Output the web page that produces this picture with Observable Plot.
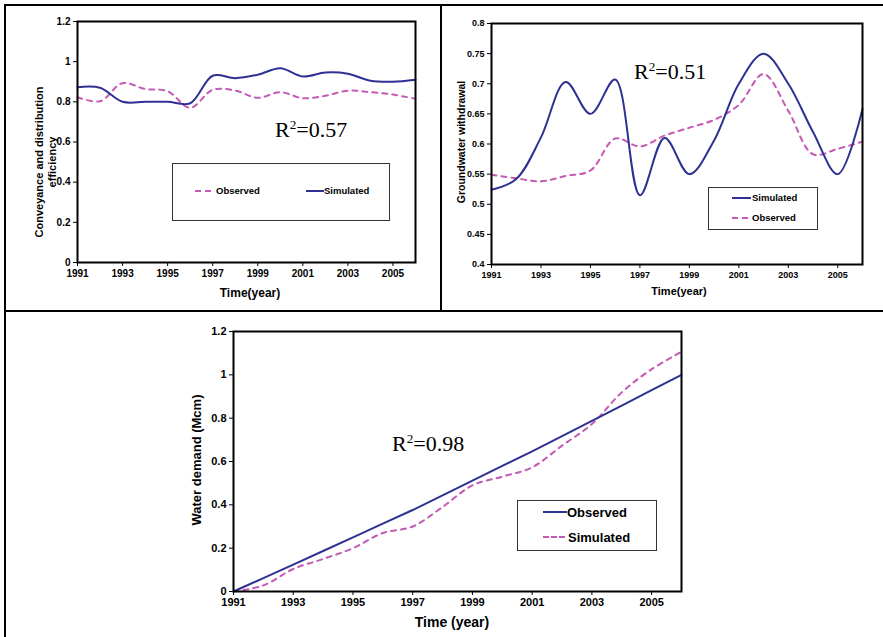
<!DOCTYPE html>
<html><head><meta charset="utf-8">
<script src="https://cdn.jsdelivr.net/npm/d3@7"></script>
<script src="https://cdn.jsdelivr.net/npm/@observablehq/plot@0.6"></script>
<style>
body{margin:0;background:#fff;}
#root{position:relative;width:883px;height:637px;overflow:hidden;font-family:"Liberation Sans",Arial,sans-serif;}
#root svg{position:absolute;}
.line{position:absolute;background:#000;}
.ylab{position:absolute;font-weight:bold;white-space:nowrap;transform:translate(-50%,-50%) rotate(-90deg);text-align:center;line-height:1.2;}
.xlab{position:absolute;font-weight:bold;white-space:nowrap;transform:translate(-50%,-50%);}
.r2{position:absolute;font-family:"Liberation Serif","Times New Roman",serif;white-space:nowrap;line-height:1;}
.r2 sup{font-size:0.6em;vertical-align:0;position:relative;top:-0.6em;}
.leg{position:absolute;border:1px solid #333;background:#fff;}
.lt{position:absolute;font-weight:bold;white-space:nowrap;line-height:1;transform:translateY(-50%);}
.sw{position:absolute;height:0;}
</style>
</head><body>
<div id="root"></div>
<script>
// ---- data ----
const years = [1991,1992,1993,1994,1995,1996,1997,1998,1999,2000,2001,2002,2003,2004,2005,2006];
const xTicks = [1991,1993,1995,1997,1999,2001,2003,2005];

// Panel 1: Conveyance and distribution efficiency
const effSimulated = [0.873,0.870,0.800,0.800,0.800,0.793,0.930,0.918,0.935,0.967,0.926,0.946,0.940,0.905,0.900,0.910];
const effObserved  = [0.823,0.803,0.893,0.864,0.853,0.770,0.860,0.856,0.820,0.848,0.818,0.830,0.856,0.848,0.836,0.815];
const effYTicks = [0,0.2,0.4,0.6,0.8,1,1.2];

// Panel 2: Groundwater withdrawal
const gwSimulated = [0.524,0.542,0.611,0.703,0.650,0.707,0.515,0.610,0.550,0.606,0.700,0.750,0.700,0.620,0.550,0.658];
const gwObserved  = [0.549,0.543,0.538,0.547,0.556,0.609,0.596,0.614,0.627,0.640,0.665,0.716,0.655,0.583,0.592,0.604];
const gwYTicks = [0.4,0.45,0.5,0.55,0.6,0.65,0.7,0.75,0.8];

// Panel 3: Water demand (Mcm)
const wdObserved  = [0,0.062,0.124,0.187,0.250,0.313,0.376,0.444,0.512,0.580,0.647,0.717,0.788,0.858,0.929,1.0];
const wdSimulated = [0,0.028,0.104,0.150,0.200,0.270,0.300,0.390,0.490,0.530,0.573,0.673,0.773,0.919,1.026,1.106];
const wdYTicks = [0,0.2,0.4,0.6,0.8,1,1.2];

const BLUE = "#2E3192";
const MAG = "#C45AB5";

const rows = (ys) => years.map((y,i)=>({year:y, v:ys[i]}));

// solid: blue solid series, dashed: magenta dashed series
function panel({width,height,ml,mr,mt,mb,ydom,yticks,solid,dashed,fs,solidCurve,dashedCurve}){
  return Plot.plot({
    width,height,marginLeft:ml,marginRight:mr,marginTop:mt,marginBottom:mb,
    style:{fontFamily:'"Liberation Sans",Arial,sans-serif',fontWeight:"bold",fontSize:fs+"px",color:"#000",background:"transparent"},
    x:{domain:[1991,2006],ticks:xTicks,tickFormat:d=>String(d),label:null,tickSize:4,tickPadding:3},
    y:{domain:ydom,ticks:yticks,tickFormat:d=>String(d),label:null,tickSize:4,tickPadding:3},
    marks:[
      Plot.line(rows(dashed),{x:"year",y:"v",stroke:MAG,strokeWidth:2,strokeDasharray:"5,5",curve:dashedCurve}),
      Plot.line(rows(solid),{x:"year",y:"v",stroke:BLUE,strokeWidth:2,curve:solidCurve}),
      Plot.frame({stroke:"#000",strokeWidth:2})
    ]
  });
}

const root = document.getElementById("root");
function add(el,left,top){el.style.left=left+"px";el.style.top=top+"px";root.appendChild(el);return el;}
function div(cls,html,css){const d=document.createElement("div");d.className=cls;if(html!=null)d.innerHTML=html;if(css)Object.assign(d.style,css);root.appendChild(d);return d;}

// borders
div("line",null,{left:"5px",top:"4px",width:"878px",height:"2px"});
div("line",null,{left:"4px",top:"4px",width:"2px",height:"633px"});
div("line",null,{left:"440px",top:"4px",width:"2px",height:"307px"});
div("line",null,{left:"5px",top:"310px",width:"878px",height:"2px"});

// panel 1
add(panel({width:434,height:300,ml:71,mr:25,mt:15,mb:44,ydom:[0,1.2],yticks:effYTicks,solid:effSimulated,dashed:effObserved,fs:10,solidCurve:"catmull-rom",dashedCurve:"catmull-rom"}),6,6);
// panel 2
add(panel({width:440,height:298,ml:49,mr:20,mt:17,mb:40,ydom:[0.4,0.8],yticks:gwYTicks,solid:gwSimulated,dashed:gwObserved,fs:9,solidCurve:"catmull-rom",dashedCurve:"catmull-rom"}),442,6);
// panel 3
add(panel({width:877,height:324,ml:227,mr:202,mt:19,mb:45,ydom:[0,1.2],yticks:wdYTicks,solid:wdObserved,dashed:wdSimulated,fs:11,solidCurve:"linear",dashedCurve:"catmull-rom"}),6,312);

// axis labels
div("ylab","Conveyance and distribution<br>efficiency",{left:"46px",top:"162px",fontSize:"11px"});
div("xlab","Time(year)",{left:"250px",top:"293px",fontSize:"12px"});
div("ylab","Groundwater withdrawal",{left:"461px",top:"142px",fontSize:"10.5px"});
div("xlab","Time(year)",{left:"679px",top:"291px",fontSize:"11px"});
div("ylab","Water demand (Mcm)",{left:"197px",top:"460px",fontSize:"13px"});
div("xlab","Time (year)",{left:"452px",top:"622px",fontSize:"14px"});

// R2 labels
div("r2","R<sup>2</sup>=0.57",{left:"275px",top:"119px",fontSize:"22px"});
div("r2","R<sup>2</sup>=0.51",{left:"634px",top:"61px",fontSize:"22px"});
div("r2","R<sup>2</sup>=0.98",{left:"392px",top:"433px",fontSize:"22px"});

// legends
function legend(box,items,fs){
  div("leg",null,{left:box[0]+"px",top:box[1]+"px",width:(box[2]-box[0])+"px",height:(box[3]-box[1])+"px"});
  for(const it of items){
    div("sw",null,{left:it.x0+"px",top:(it.y-1)+"px",width:(it.x1-it.x0)+"px",borderTop:"2px "+(it.dash?"dashed ":"solid ")+it.color});
    div("lt",it.label,{left:it.tx+"px",top:it.y+"px",fontSize:fs+"px"});
  }
}
legend([172,163,388,219],[
  {label:"Observed",color:MAG,dash:true,x0:195,x1:211,y:191,tx:216},
  {label:"Simulated",color:BLUE,dash:false,x0:306,x1:324,y:191,tx:324}
],9.5);
legend([708,187,816,228],[
  {label:"Simulated",color:BLUE,dash:false,x0:732,x1:751,y:198,tx:752},
  {label:"Observed",color:MAG,dash:true,x0:732,x1:748,y:218,tx:752}
],9.5);
legend([517,500,655,549],[
  {label:"Observed",color:BLUE,dash:false,x0:543,x1:567,y:512,tx:567},
  {label:"Simulated",color:MAG,dash:true,x0:543,x1:565,y:537,tx:568}
],13);
</script>
</body></html>
